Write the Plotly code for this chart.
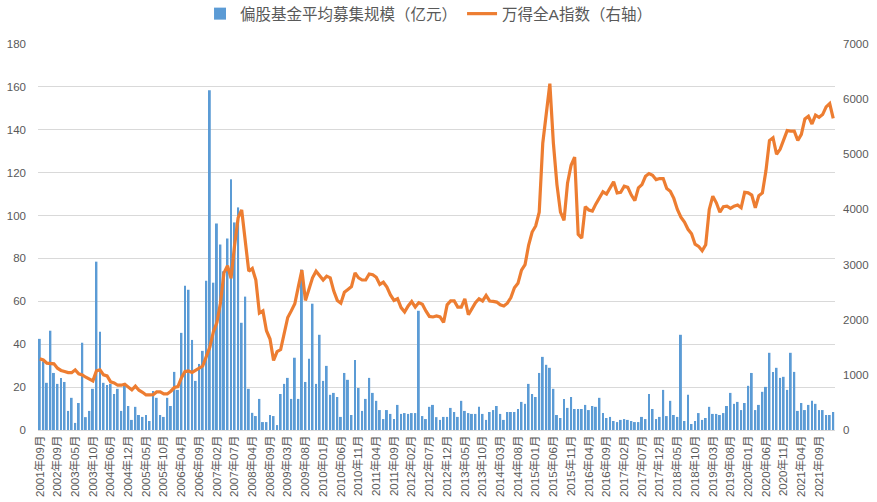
import plotly.graph_objects as go

# ---- categories (months with fund issuance) ----
early_months = [
    "2001-09", "2001-12", "2002-03", "2002-05", "2002-08", "2002-09", "2002-10", "2002-12",
    "2003-02", "2003-03", "2003-05", "2003-06", "2003-07", "2003-08", "2003-09", "2003-10",
    "2003-11", "2004-01", "2004-03", "2004-04", "2004-06", "2004-07", "2004-08", "2004-09",
    "2004-11", "2004-12", "2005-01", "2005-02", "2005-03", "2005-04", "2005-05", "2005-06",
    "2005-07", "2005-08", "2005-09", "2005-10", "2005-11", "2005-12", "2006-01", "2006-03",
    "2006-04", "2006-05", "2006-06", "2006-07", "2006-08", "2006-09", "2006-10", "2006-11",
    "2006-12", "2007-01", "2007-02", "2007-03", "2007-04", "2007-05", "2007-06", "2007-07",
    "2007-09", "2007-10", "2007-11", "2008-01", "2008-04", "2008-05", "2008-06", "2008-07",
    "2008-08", "2008-09", "2008-10", "2008-11", "2008-12", "2009-02",
]
regular_start = (2009, 3)
regular_end = (2022, 1)

months = list(early_months)
y, m = regular_start
while (y, m) <= regular_end:
    months.append(f"{y:04d}-{m:02d}")
    m += 1
    if m > 12:
        y += 1
        m = 1
categories = [f"{s[:4]}年{s[5:]}月" for s in months]

# ---- series: average fund raising size (亿元) ----
fund_size = [
    42.5, 32, 22, 46.3, 26.6, 21.5, 24.3, 22.4, 8.9, 15, 3.3, 12.6, 40.7, 6, 8.9, 19.2,
    78.5, 45.8, 22, 21, 21.5, 16.8, 19.2, 8.9, 20.6, 11.2, 4.7, 10.8, 7, 6.1, 7, 4.2,
    18.2, 15, 7, 6.1, 15,
    11.2, 27.1, 18.7, 45.3, 67.3, 65.4, 42, 22.9, 30.8, 36.9, 69.6, 158.4, 68.7, 96.3,
    86.5, 74, 89.3, 116.9, 96.8, 103.8, 50, 62.2, 19.2, 8, 6.5, 14.5, 3.7, 3.7, 7, 6.5,
    2.3, 16.8, 21.5, 24.3, 14.5, 33.7, 14.5,
    74.8, 22.4, 33.2, 58.9, 21.5, 44.4, 22.9, 29.9, 16.4, 17.3, 15.4, 6.1, 26.6, 23.4, 7,
    32.7, 19.6, 8.9, 14.5, 24.3, 17.3, 13.6, 9.3, 5.1, 9.3, 7.5, 5.1, 11.7, 7.5, 7.9, 7.5,
    7.9, 7.9, 55.6, 6.5, 5.1, 10.8, 11.7,
    6, 4.7, 6.1, 6.1, 10.3, 8.4, 6.1, 13.6, 8.9, 7.9, 7.5, 7.5, 10.8, 7.5, 4.7, 8.4, 9.3,
    11.2, 7.5, 4.7, 8.4, 8.4, 8.4, 9.8, 13.1, 12.2, 21.5, 16.8, 15.4, 26.6, 34.1, 30.4, 29,
    19.2, 7, 5.6, 14.5, 10.3,
    15.4, 9.8, 9.8, 9.8, 11.7, 9.3, 11.2, 10.8, 15, 7.9, 5.6, 6.1, 4.2, 3.7, 4.7, 5.1, 4.7,
    4.2, 3.7, 3.7, 6.1, 5.1, 16.8, 9.8, 5.1, 6.1, 18.7, 6.5, 13.6, 7, 6.1, 44.4, 4.2, 16.4,
    2.8, 4.2, 7.9,
    4.7, 5.6, 10.8, 7.5, 7.5, 7, 7.9, 11.2, 17.3, 12.2, 13.1, 9.3, 12.6, 20.6, 26.6, 9.3,
    11.7, 17.8, 20.1, 36, 27.1, 29, 24.3, 24.8, 18.7, 36, 27.1, 8.9, 12.6, 9.3, 11.7, 13.6,
    12.2, 9.3, 9.3, 7, 7, 8.4,
]

# ---- series: Wind All A index (right axis) ----
wind_all_a = [
    1290, 1270, 1212, 1212, 1200, 1121, 1080, 1060, 1040, 1040, 1091, 1018, 1000, 957, 921,
    891, 1073, 1091, 1000, 982, 873, 855, 812, 812, 830, 782, 727, 794, 721, 685, 636, 636,
    640, 691, 691, 654, 654, 703,
    770, 788, 950, 1060, 1070, 1045, 1080, 1110, 1160, 1330, 1500, 1780, 1950, 2300, 2850,
    2980, 2750, 3350, 3850, 3990, 3400, 2880, 2930, 2720, 2120, 2160, 1800, 1650, 1260, 1420,
    1460, 1760, 2040, 2160, 2290, 2600,
    2900, 2350, 2560, 2760, 2880, 2800, 2720, 2790, 2760, 2520, 2350, 2300, 2500, 2550, 2600,
    2850, 2760, 2720, 2720, 2830, 2815, 2770, 2640, 2680, 2590, 2450, 2350, 2380, 2220, 2140,
    2250, 2330, 2230, 2310, 2280, 2160, 2060, 2050,
    2070, 2050, 1950, 2270, 2340, 2340, 2230, 2230, 2380, 2090, 2190, 2310, 2380, 2340, 2440,
    2340, 2333, 2320, 2270, 2250, 2300, 2400, 2580, 2660, 2900, 3000, 3350, 3590, 3700, 3950,
    5200, 5750, 6280, 5200, 4450, 3950, 3800, 4480,
    4800, 4950, 3550, 3480, 4050, 3990, 3970, 4100, 4200, 4320, 4280, 4400, 4500, 4300, 4310,
    4420, 4400, 4260, 4160, 4390, 4450, 4600, 4650, 4620, 4540, 4560, 4560, 4380, 4330, 4200,
    4000, 3860, 3770, 3640, 3560, 3370, 3330,
    3250, 3360, 4000, 4240, 4120, 3950, 4050, 4060, 4020, 4060, 4080, 4030, 4310, 4300, 4260,
    4030, 4250, 4300, 4700, 5250, 5300, 5000, 5090, 5250, 5430, 5420, 5420, 5250, 5360, 5640,
    5690, 5550, 5710, 5670, 5720, 5860, 5920, 5650,
]

tick_labels = categories[::5]

FONT = "Liberation Sans, Noto Sans CJK SC, sans-serif"
GRAY = "#595959"
GRID = "#d9d9d9"

fig = go.Figure()
fig.add_trace(go.Bar(
    x=categories, y=fund_size, name="偏股基金平均募集规模（亿元）",
    marker=dict(color="#5B9BD5", line=dict(width=0)),
))
fig.add_trace(go.Scatter(
    x=categories, y=wind_all_a, name="万得全A指数（右轴）", yaxis="y2",
    mode="lines", line=dict(color="#ED7D31", width=3.2),
))

fig.update_layout(
    width=877, height=502,
    margin=dict(l=38, r=42, t=44, b=72, autoexpand=False),
    plot_bgcolor="white", paper_bgcolor="white",
    font=dict(family=FONT, color=GRAY),
    bargap=0.45,
    showlegend=True,
    legend=dict(orientation="h", x=0.49, xanchor="center", yref="container",
                y=0.972, yanchor="middle", itemwidth=30,
                font=dict(size=15.5, color=GRAY), bgcolor="rgba(0,0,0,0)"),
    xaxis=dict(type="category", categoryorder="array", categoryarray=categories,
               tickmode="array", tickvals=tick_labels, ticktext=tick_labels,
               tickangle=-90, tickfont=dict(size=11.5, color=GRAY),
               showgrid=False, showline=True, linecolor=GRID, linewidth=1,
               ticks="", range=[-0.5, len(categories) - 0.5], zeroline=False),
    yaxis=dict(range=[0, 180], dtick=20, tick0=0, showgrid=True, gridcolor=GRID,
               gridwidth=1, zeroline=False, showline=False, ticks="",
               tickfont=dict(size=11.5, color=GRAY), ticklabelstandoff=11),
    yaxis2=dict(range=[0, 7000], dtick=1000, tick0=0, overlaying="y", side="right",
                showgrid=False, zeroline=False, showline=False, ticks="",
                tickfont=dict(size=11.5, color=GRAY), ticklabelstandoff=7),
)

fig.write_html("out.html")
